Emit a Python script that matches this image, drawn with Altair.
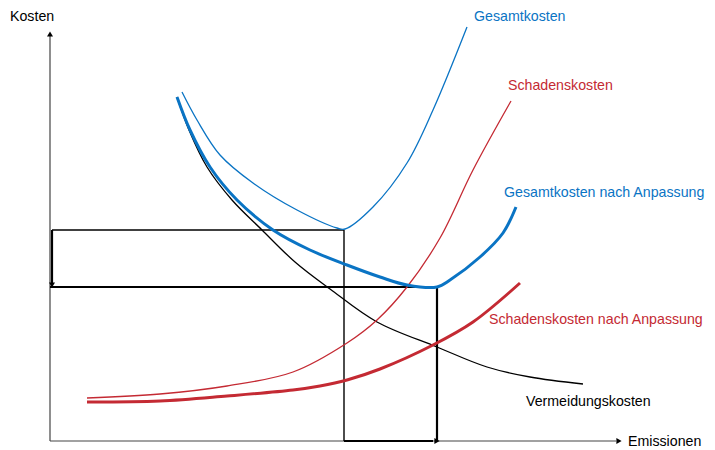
import altair as alt
import pandas as pd

# ---- data (X = emissions units from origin, Y = cost units from origin) ----
verm_x = [127, 139, 157, 182, 212, 245, 280, 327, 387, 437, 480, 533]
verm_y = [344, 311, 274, 241, 211, 179, 152, 119, 94, 74, 64, 57]

ges_x = [132, 147, 170, 203, 247, 287, 295, 323, 357, 383, 417]
ges_y = [349, 321, 286, 258, 231, 213, 212, 234, 278, 331, 414]

sch_x = [37, 110, 177, 243, 297, 327, 357, 390, 423, 461]
sch_y = [43, 47, 55, 69, 98, 121, 154, 203, 271, 340]

gesA_x = [127, 140, 160, 187, 223, 260, 297, 330, 357, 387, 400, 430, 453, 466]
gesA_y = [344, 311, 274, 241, 211, 191, 176, 164, 156, 154, 161, 184, 208, 234]

schA_x = [37, 110, 177, 243, 270, 297, 330, 383, 423, 470]
schA_y = [39, 40, 45, 51, 55, 61, 72, 96, 119, 158]

# optimum levels
opt1_x, opt1_y = 294, 211
opt2_x, opt2_y = 387, 154

label_text = ["Kosten", "Gesamtkosten", "Schadenskosten", "Gesamtkosten nach Anpassung",
              "Schadenskosten nach Anpassung", "Vermeidungskosten", "Emissionen"]
label_x = [-40, 424, 458, 454, 439, 476, 578]
label_y = [424, 424, 355, 248, 121, 39, -1]
label_col = ["#000000", "#0a74c4", "#c42a33", "#0a74c4", "#c42a33", "#000000", "#000000"]

BLUE = "#0a74c4"
RED = "#c42a33"

xs = alt.Scale(domain=[-42, 657], nice=False, zero=False)
ys = alt.Scale(domain=[-1, 433], nice=False, zero=False)


def curve(xv, yv, color, width):
    df = pd.DataFrame({"x": xv, "y": yv, "o": range(len(xv))})
    return alt.Chart(df).mark_line(color=color, strokeWidth=width, interpolate="catmull-rom").encode(
        x=alt.X("x:Q", scale=xs, axis=None),
        y=alt.Y("y:Q", scale=ys, axis=None),
        order="o:Q",
    )


def segs(rows, width, color="black"):
    df = pd.DataFrame(rows, columns=["x", "y", "x2", "y2"])
    return alt.Chart(df).mark_rule(color=color, strokeWidth=width).encode(
        x=alt.X("x:Q", scale=xs, axis=None),
        y=alt.Y("y:Q", scale=ys, axis=None),
        x2="x2:Q",
        y2="y2:Q",
    )


axes = segs([[0, 0, 0, 405], [0, 0, 566, 0]], 1.2, "#444444")
thin_guides = segs([[2, opt1_y, opt1_x, opt1_y], [opt1_x, opt1_y, opt1_x, 0]], 1.4)
thick_guides = segs([[0, opt2_y, opt2_x, opt2_y], [opt2_x, opt2_y, opt2_x, 0],
                     [opt1_x, 0, opt2_x - 4, 0], [2, opt1_y, 2, opt2_y + 4]], 2.2)

arrow_df = pd.DataFrame({
    "x": [0, 569, 2, opt2_x],
    "y": [407, 0, opt2_y + 2, 0],
    "shape": ["triangle-up", "triangle-right", "triangle-down", "triangle-right"],
})
arrows = alt.Chart(arrow_df).mark_point(filled=True, color="black", opacity=1, size=36).encode(
    x=alt.X("x:Q", scale=xs, axis=None),
    y=alt.Y("y:Q", scale=ys, axis=None),
    shape=alt.Shape("shape:N", scale=None, legend=None),
)

lab_df = pd.DataFrame({"t": label_text, "x": label_x, "y": label_y, "c": label_col})
labels = alt.Chart(lab_df).mark_text(align="left", baseline="middle", fontSize=14.2,
                                      font="Liberation Sans").encode(
    x=alt.X("x:Q", scale=xs, axis=None),
    y=alt.Y("y:Q", scale=ys, axis=None),
    text="t:N",
    color=alt.Color("c:N", scale=None, legend=None),
)

chart = alt.layer(
    axes,
    thin_guides,
    thick_guides,
    curve(verm_x, verm_y, "black", 1.3),
    curve(sch_x, sch_y, RED, 1.3),
    curve(ges_x, ges_y, BLUE, 1.3),
    curve(schA_x, schA_y, RED, 3),
    curve(gesA_x, gesA_y, BLUE, 3),
    arrows,
    labels,
).properties(width=699, height=434,
             padding={"top": 0, "left": 0, "right": 0, "bottom": 7},
             autosize=alt.AutoSizeParams(type="none")
).configure_view(stroke=None)

chart.save("out.html", embed_options={"renderer": "svg", "actions": False})
